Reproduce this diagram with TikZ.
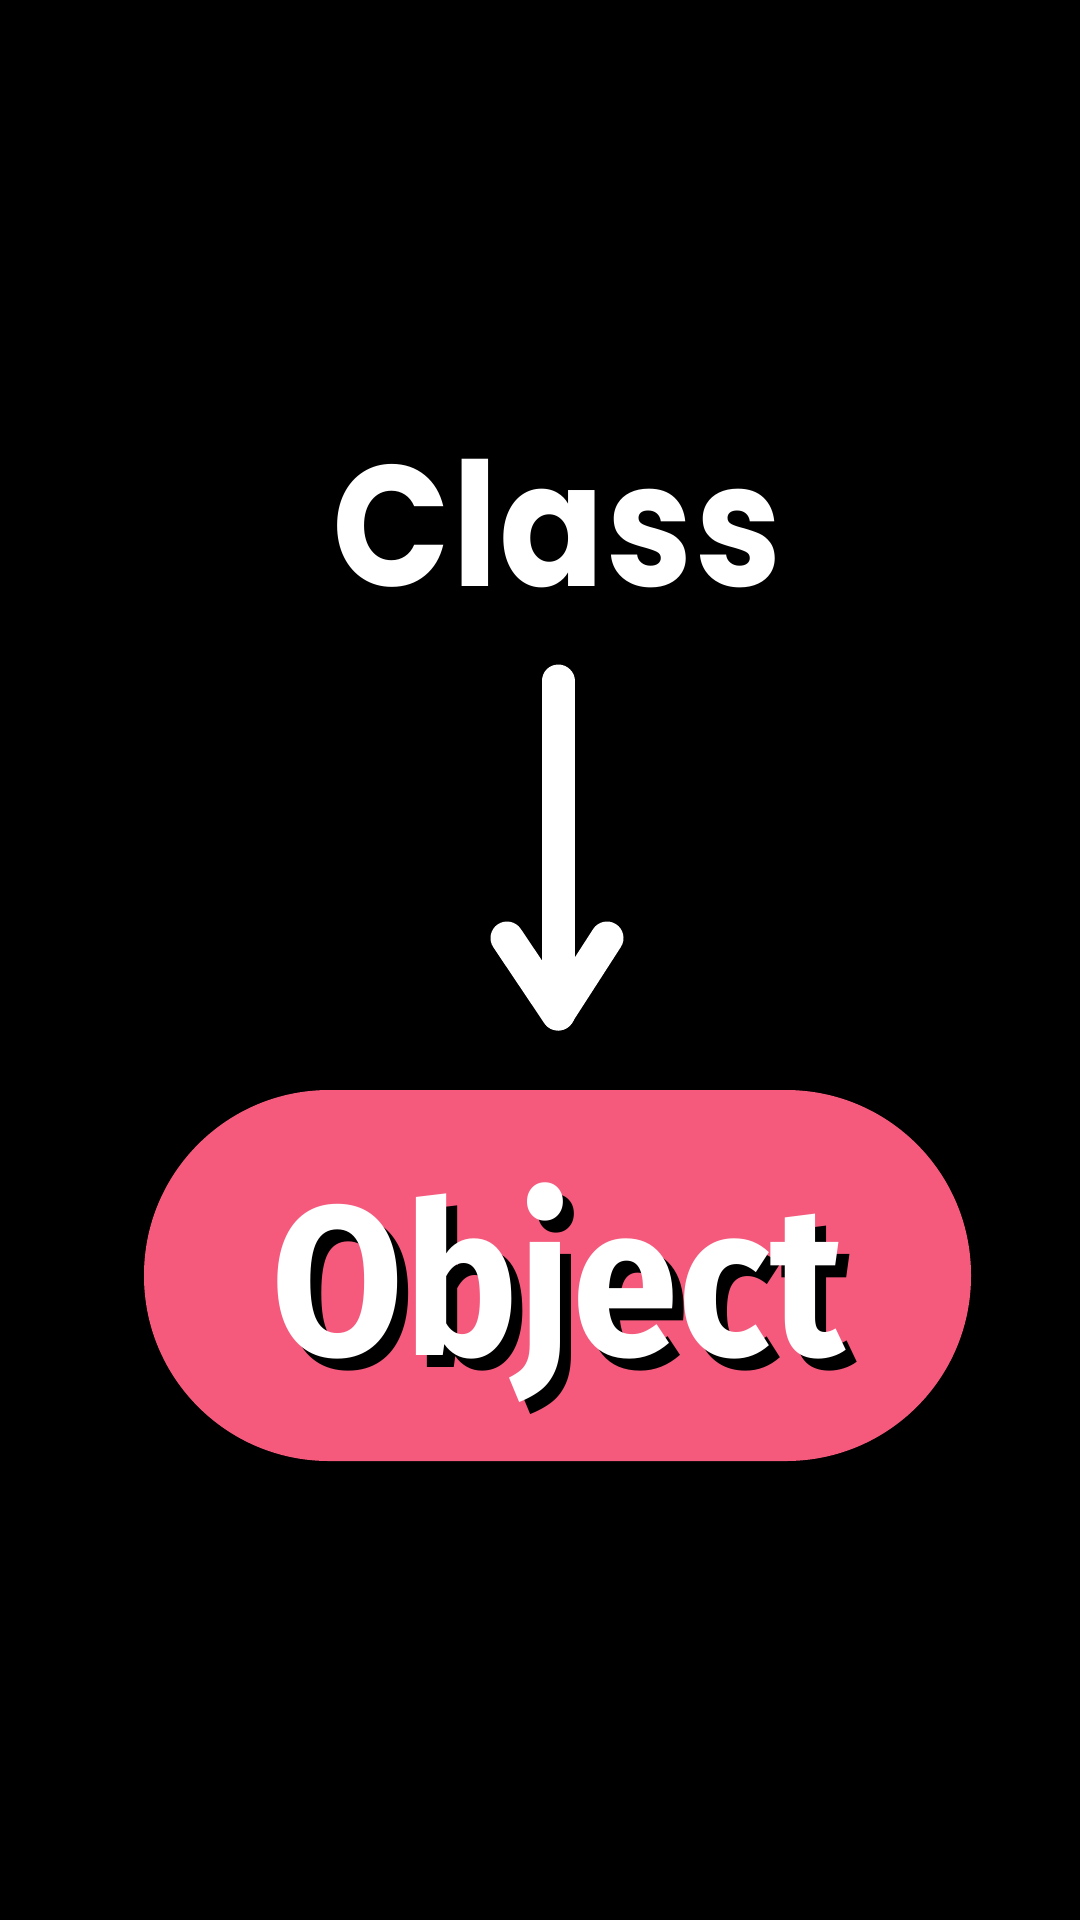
\documentclass[tikz,border=0pt]{standalone}
\usepackage{fontspec}
\setmainfont{Poppins}
\newfontfamily\classfont[FakeStretch=0.9]{Poppins}
\newfontfamily\objfont[FakeStretch=0.9]{Fira Sans}
\definecolor{pillpink}{HTML}{F55A7D}
\begin{document}
\begin{tikzpicture}[x=1pt,y=-1pt,
  title/.style={text=white,font=\classfont\fontsize{172}{172}\selectfont\bfseries,inner sep=0pt,anchor=base},
  objtext/.style={font=\objfont\fontsize{213}{213}\selectfont\bfseries,inner sep=0pt,anchor=base},
  arrowline/.style={white,line width=33pt,line cap=round,line join=round}]
\fill[black] (0,0) rectangle (1080,1920);
\useasboundingbox (0,0) rectangle (1080,1920);
\node[title] (class) at (557,586) {C\kern2pt l\kern2pt a\kern2pt s\kern2pt s};
\fill[pillpink,rounded corners=185pt] (144,1090) rectangle (971,1461);
\node[objtext,text=black] (objshadow) at (569,1367) {Object};
\node[objtext,text=white] (object) at (558,1355) {Object};
\coordinate (tail) at (558,681);
\coordinate (tip) at (558,1014);
\draw[arrowline] (tail) -- (tip);
\draw[arrowline] (507,938) -- (tip) -- (607,938);
\end{tikzpicture}
\end{document}
